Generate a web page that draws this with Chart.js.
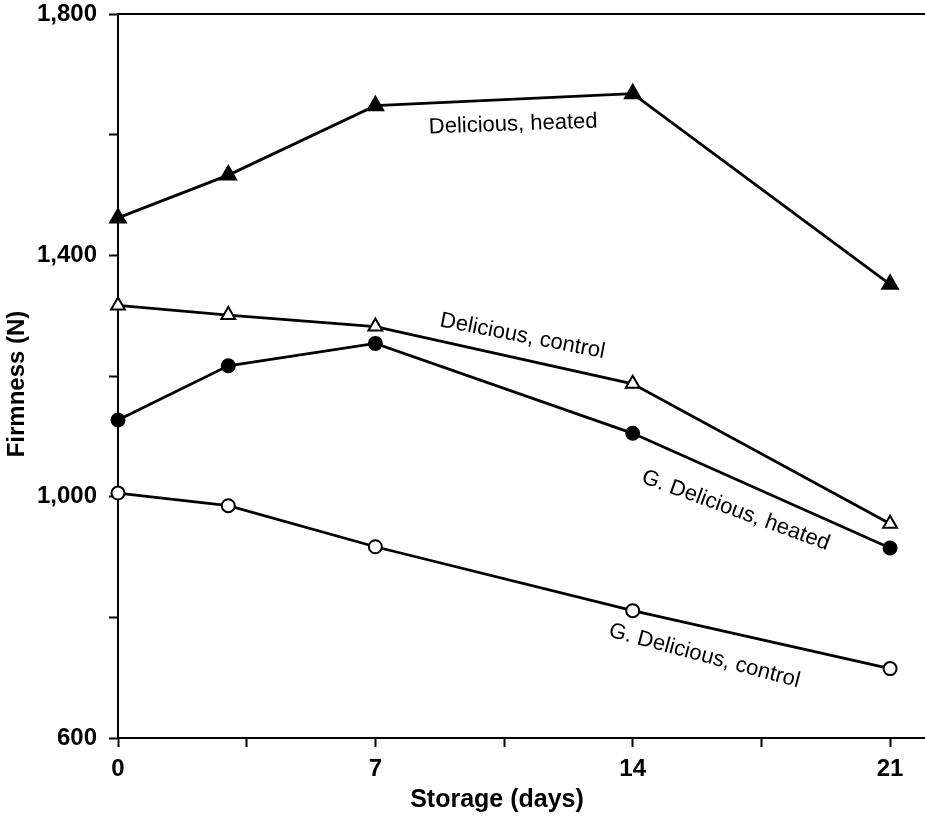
<!DOCTYPE html>
<html lang="en">
<head>
  <meta charset="UTF-8">
  <title>Firmness during storage</title>
  <script src="https://cdn.jsdelivr.net/npm/chart.js"></script>
  <style>
    html, body {
      margin: 0;
      padding: 0;
      background: #fff;
    }
    canvas {
      display: block;
    }
  </style>
</head>
<body>
  <canvas id="firmChart" width="925" height="818"></canvas>

  <script>
    // storage time (days) and firmness (N) per treatment
    const days = [0, 3, 7, 14, 21];
    const seriesNames = ["Delicious, heated", "Delicious, control", "G. Delicious, heated", "G. Delicious, control"];
    const deliciousHeated = [1462, 1533, 1648, 1668, 1352];
    const deliciousControl = [1317, 1301, 1282, 1187, 955];
    const goldenHeated = [1127, 1217, 1254, 1105, 915];
    const goldenControl = [1006, 985, 917, 811, 715];

    // axis ticks (minor ticks carry no label)
    const xTicks = [0, 3.5, 7, 10.5, 14, 17.5, 21];
    const xLabelled = [0, 7, 14, 21];
    const yTicks = [600, 800, 1000, 1200, 1400, 1600, 1800];
    const yLabelled = [600, 1000, 1400, 1800];

    const FONT = "'Liberation Sans', Arial, Helvetica, sans-serif";

    // where each curve's name sits, in data units, and its slant in degrees
    const namePlacement = [
      { x: 10.75, y: 1617, angle: -2 },
      { x: 11.0, y: 1266, angle: 11 },
      { x: 16.8, y: 977, angle: 20 },
      { x: 15.95, y: 736, angle: 15 }
    ];

    function toPoints(vals) {
      return days.map((d, i) => ({ x: d, y: vals[i] }));
    }

    function series(label, vals, style, filled, radius) {
      return {
        label: label,
        data: toPoints(vals),
        borderColor: "#000",
        borderWidth: 2.8,
        pointStyle: style,
        pointRadius: radius,
        pointBorderWidth: 2,
        pointBorderColor: "#000",
        pointBackgroundColor: filled ? "#000" : "#fff",
        tension: 0,
        fill: false,
        clip: false
      };
    }

    // curve names, axis titles and the top frame line
    const decorations = {
      id: "decorations",
      afterDraw(chart) {
        const ctx = chart.ctx;
        const xs = chart.scales.x;
        const ys = chart.scales.y;
        const area = chart.chartArea;

        ctx.save();
        ctx.strokeStyle = "#000";
        ctx.lineWidth = 2;
        ctx.beginPath();
        ctx.moveTo(area.left, area.top);
        ctx.lineTo(area.right, area.top);
        ctx.stroke();

        ctx.fillStyle = "#000";
        ctx.textAlign = "center";
        ctx.textBaseline = "middle";

        ctx.font = "22px " + FONT;
        namePlacement.forEach((p, i) => {
          ctx.save();
          ctx.translate(xs.getPixelForValue(p.x), ys.getPixelForValue(p.y));
          ctx.rotate(p.angle * Math.PI / 180);
          ctx.fillText(seriesNames[i], 0, 0);
          ctx.restore();
        });

        ctx.font = "bold 25px " + FONT;
        ctx.fillText("Storage (days)", 497, 800);

        ctx.font = "bold 24px " + FONT;
        ctx.save();
        ctx.translate(17, 384);
        ctx.rotate(-Math.PI / 2);
        ctx.fillText("Firmness (N)", 0, 0);
        ctx.restore();
        ctx.restore();
      }
    };

    const tickFont = { family: FONT, size: 24, weight: "bold" };

    new Chart(document.getElementById("firmChart").getContext("2d"), {
      type: "line",
      data: {
        datasets: [
          series(seriesNames[0], deliciousHeated, "triangle", true, 9),
          series(seriesNames[1], deliciousControl, "triangle", false, 8),
          series(seriesNames[2], goldenHeated, "circle", true, 6.5),
          series(seriesNames[3], goldenControl, "circle", false, 6.5)
        ]
      },
      options: {
        responsive: false,
        animation: false,
        layout: {
          autoPadding: false,
          padding: { top: 14, right: 0, left: 0, bottom: 0 }
        },
        plugins: {
          legend: { display: false },
          tooltip: { enabled: false }
        },
        scales: {
          x: {
            type: "linear",
            min: 0,
            max: 21.95,
            afterBuildTicks: s => { s.ticks = xTicks.map(v => ({ value: v })); },
            afterFit: s => {
              s.height = 80;
              s.paddingLeft = 0;
              s.paddingRight = 0;
            },
            ticks: {
              autoSkip: false,
              maxRotation: 0,
              padding: 8,
              color: "#000",
              font: tickFont,
              callback: v => xLabelled.includes(v) ? String(v) : ""
            },
            grid: {
              drawOnChartArea: false,
              tickLength: 9,
              tickWidth: 2,
              tickColor: "#000"
            },
            border: { color: "#000", width: 2 }
          },
          y: {
            min: 600,
            max: 1800,
            afterBuildTicks: s => { s.ticks = yTicks.map(v => ({ value: v })); },
            afterFit: s => {
              s.width = 118;
              s.paddingTop = 0;
              s.paddingBottom = 0;
            },
            ticks: {
              autoSkip: false,
              padding: 12,
              color: "#000",
              font: tickFont,
              callback: v => yLabelled.includes(v) ? v.toLocaleString("en-US") : ""
            },
            grid: {
              drawOnChartArea: false,
              tickLength: 9,
              tickWidth: 2,
              tickColor: "#000"
            },
            border: { color: "#000", width: 2 }
          }
        }
      },
      plugins: [decorations]
    });
  </script>
</body>
</html>
